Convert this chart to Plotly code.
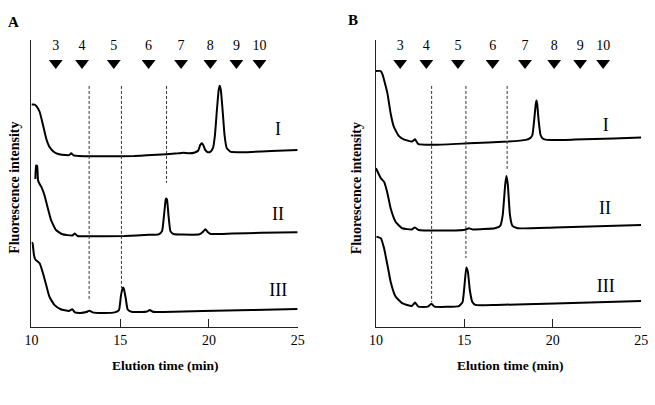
import plotly.graph_objects as go

# ---------------- data ----------------
# Panel A chromatograms (time in min, intensity in arbitrary units incl. vertical offset)
A_I_t = [10.00, 10.17, 10.30, 10.46, 10.65, 10.83, 11.01, 11.29, 11.56, 11.93, 12.12, 12.24, 12.37, 12.66,
         14.14, 15.79, 16.51, 17.61, 18.27, 18.55, 18.88, 19.21, 19.40, 19.51, 19.60, 19.68, 19.79, 19.93,
         20.09, 20.23, 20.34, 20.45, 20.55, 20.61, 20.67, 20.77, 20.88, 21.00, 21.20, 21.58, 22.41, 23.51, 25.00]
A_I_v = [77.5, 77.5, 76.8, 75.0, 70.4, 65.7, 62.8, 60.9, 60.2, 59.9, 59.9, 60.5, 59.8, 59.6,
         59.5, 59.6, 59.8, 60.2, 60.5, 60.7, 60.5, 60.8, 61.5, 63.4, 64.0, 63.4, 61.7, 60.9,
         61.1, 62.4, 66.9, 75.6, 82.6, 84.1, 82.6, 75.6, 66.9, 62.4, 61.1, 60.9, 61.0, 61.3, 61.7]

A_II_t = [10.22, 10.26, 10.32, 10.37, 10.46, 10.55, 10.73, 10.92, 11.10, 11.38, 11.75, 12.30, 12.44, 12.59,
          13.03, 15.24, 16.62, 17.17, 17.36, 17.47, 17.56, 17.59, 17.64, 17.72, 17.83, 18.00, 18.55, 19.47,
          19.65, 19.80, 19.93, 20.11, 21.31, 22.96, 25.00]
A_II_v = [51.6, 56.3, 56.1, 51.1, 49.8, 48.9, 46.0, 41.4, 37.3, 33.8, 32.3, 31.9, 32.6, 31.7,
          31.6, 31.7, 32.1, 32.3, 33.4, 39.0, 44.3, 44.8, 44.3, 39.0, 33.4, 32.4, 32.2, 32.3,
          33.1, 34.1, 33.1, 32.4, 32.6, 32.8, 33.0]

A_III_t = [10.03, 10.07, 10.14, 10.22, 10.46, 10.65, 10.83, 11.01, 11.29, 11.65, 12.11, 12.30, 12.45, 12.76,
           13.09, 13.27, 13.45, 13.86, 14.69, 14.93, 15.04, 15.13, 15.16, 15.21, 15.31, 15.42, 15.63, 16.07,
           16.51, 16.67, 16.84, 17.45, 19.65, 22.41, 25.00]
A_III_v = [29.6, 28.9, 25.1, 23.5, 22.2, 18.7, 14.6, 10.6, 7.7, 6.2, 5.6, 6.2, 5.1, 4.9,
           5.2, 5.7, 5.1, 4.9, 5.1, 5.9, 10.8, 13.4, 13.8, 13.2, 10.1, 6.1, 5.3, 5.2,
           5.4, 5.9, 5.3, 5.2, 5.6, 5.9, 6.3]

# Panel B chromatograms
B_I_t = [10.00, 10.26, 10.36, 10.46, 10.65, 10.83, 11.01, 11.29, 11.57, 12.03, 12.21, 12.40, 13.41, 15.26,
         17.47, 18.48, 18.74, 18.85, 18.95, 19.04, 19.08, 19.12, 19.20, 19.31, 19.43, 19.68, 21.23, 23.45, 25.00]
B_I_v = [89.2, 89.2, 88.2, 86.1, 81.4, 74.5, 69.8, 66.6, 65.4, 64.6, 65.4, 63.7, 63.5, 64.0,
         64.6, 65.2, 65.9, 66.9, 72.1, 77.7, 78.9, 77.7, 72.1, 66.9, 65.7, 65.2, 65.3, 65.7, 66.0]

B_II_t = [10.00, 10.28, 10.46, 10.65, 10.83, 11.11, 11.48, 12.03, 12.21, 12.41, 13.41, 15.04, 15.26, 15.48,
          16.73, 17.03, 17.17, 17.31, 17.38, 17.46, 17.58, 17.72, 18.02, 20.13, 25.00]
B_II_v = [55.3, 51.8, 50.6, 46.6, 41.4, 36.7, 34.4, 34.0, 34.7, 33.8, 33.6, 33.9, 34.4, 34.0,
          34.4, 35.2, 39.0, 49.5, 52.6, 49.5, 39.0, 35.2, 34.4, 34.7, 35.5]

B_III_t = [10.03, 10.28, 10.46, 10.65, 10.83, 11.11, 11.48, 12.03, 12.21, 12.40, 12.93, 13.14, 13.32, 14.70,
           14.90, 15.01, 15.11, 15.20, 15.31, 15.45, 15.63, 16.81, 20.13, 25.00]
B_III_v = [31.5, 30.9, 27.4, 21.6, 15.8, 10.6, 8.3, 7.3, 8.5, 7.1, 7.1, 8.1, 7.1, 7.3,
           8.7, 14.6, 20.7, 19.2, 12.9, 8.7, 7.7, 7.7, 8.2, 9.1]

# Standard markers (glucose units 3-10) elution times
std_labels = ["3", "4", "5", "6", "7", "8", "9", "10"]
std_times = [11.37, 12.85, 14.64, 16.60, 18.43, 20.08, 21.55, 22.85]

# Dashed guide lines: times, top and bottom values
A_dash_t = [13.25, 15.07, 17.61]
A_dash_bottom = [9.4, 13.6, 50.2]
B_dash_t = [13.15, 15.09, 17.42]
B_dash_bottom = [8.7, 24.0, 54.7]
dash_top = 84.0

# Trace labels
trace_names = ["I", "II", "III"]
A_label_t = [23.9, 23.9, 23.9]
A_label_v = [68.6, 39.0, 12.5]
B_label_t = [23.0, 22.95, 23.0]
B_label_v = [69.7, 40.8, 13.6]

marker_v = 92.0
number_v = 97.6

# ---------------- figure ----------------
FONT = "Liberation Serif, Times New Roman, serif"
fig = go.Figure()

panels = [
    ("x", "y", [(A_I_t, A_I_v), (A_II_t, A_II_v), (A_III_t, A_III_v)], A_dash_t, A_dash_bottom, A_label_t, A_label_v),
    ("x2", "y2", [(B_I_t, B_I_v), (B_II_t, B_II_v), (B_III_t, B_III_v)], B_dash_t, B_dash_bottom, B_label_t, B_label_v),
]

for xa, ya, traces, dt, db, lt, lv in panels:
    for t, v in traces:
        fig.add_trace(go.Scatter(x=t, y=v, mode="lines", xaxis=xa, yaxis=ya,
                                 line=dict(color="black", width=2, shape="spline", smoothing=0.4),
                                 showlegend=False, hoverinfo="skip"))
    for t, b in zip(dt, db):
        fig.add_trace(go.Scatter(x=[t, t], y=[dash_top, b], mode="lines", xaxis=xa, yaxis=ya,
                                 line=dict(color="#333333", width=1, dash="3px,2px"),
                                 showlegend=False, hoverinfo="skip"))
    fig.add_trace(go.Scatter(x=std_times, y=[marker_v] * len(std_times), mode="markers",
                             xaxis=xa, yaxis=ya, cliponaxis=False,
                             marker=dict(symbol="triangle-down", size=12, color="black"),
                             showlegend=False, hoverinfo="skip"))
    fig.add_trace(go.Scatter(x=std_times, y=[number_v] * len(std_times), mode="text",
                             text=std_labels, xaxis=xa, yaxis=ya, cliponaxis=False,
                             textfont=dict(family=FONT, size=14, color="black"),
                             showlegend=False, hoverinfo="skip"))
    fig.add_trace(go.Scatter(x=lt, y=lv, mode="text", text=trace_names, xaxis=xa, yaxis=ya,
                             cliponaxis=False,
                             textfont=dict(family=FONT, size=18, color="black"),
                             showlegend=False, hoverinfo="skip"))

W, H = 655, 405
yd = [(H - 327) / H, (H - 40) / H]
xcommon = dict(range=[10, 25], tickvals=[10, 15, 20, 25], ticks="inside", ticklen=8,
               tickwidth=1, tickcolor="#222", showline=True, linecolor="#222", linewidth=1.2,
               showgrid=False, zeroline=False, tickfont=dict(family=FONT, size=14, color="black"))
ycommon = dict(range=[0, 100], showline=True, linecolor="#222", linewidth=1.2, showgrid=False,
               zeroline=False, showticklabels=False, ticks="")

fig.update_layout(
    width=W, height=H, margin=dict(l=0, r=0, t=0, b=0),
    paper_bgcolor="white", plot_bgcolor="white",
    xaxis=dict(xcommon, domain=[25 / W, 297 / W], anchor="y"),
    yaxis=dict(ycommon, domain=yd, anchor="x"),
    xaxis2=dict(xcommon, domain=[377 / W, 648 / W], anchor="y2"),
    yaxis2=dict(ycommon, domain=yd, anchor="x2"),
)

annos = [
    dict(text="<b>A</b>", x=7 / W, y=1 - 22 / H, size=15),
    dict(text="<b>B</b>", x=354 / W, y=1 - 20 / H, size=15),
    dict(text="<b>Elution time (min)</b>", x=162 / W, y=1 - 365 / H, size=13.5),
    dict(text="<b>Elution time (min)</b>", x=514 / W, y=1 - 365 / H, size=13.5),
]
for a in annos:
    fig.add_annotation(text=a["text"], x=a["x"], y=a["y"], xref="paper", yref="paper",
                       showarrow=False, xanchor="center", yanchor="middle",
                       font=dict(family=FONT, size=a["size"], color="black"))
for xp in [8, 358]:
    fig.add_annotation(text="<b>Fluorescence intensity</b>", x=xp / W, y=1 - 188 / H,
                       xref="paper", yref="paper", showarrow=False, textangle=-90,
                       xanchor="center", yanchor="middle",
                       font=dict(family=FONT, size=14, color="black"))

fig.write_html("out.html")
